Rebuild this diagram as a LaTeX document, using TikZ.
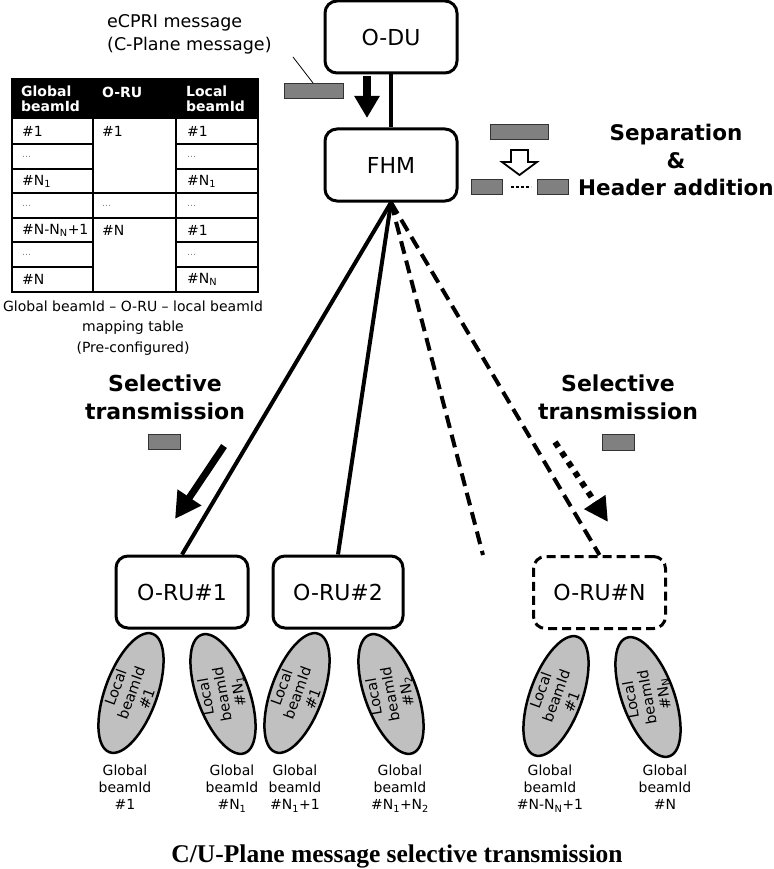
\documentclass[tikz,border=0pt]{standalone}
\usepackage{fontspec}
\setmainfont{DejaVu Sans}
\newfontfamily\titlefont{Liberation Serif}
\usetikzlibrary{arrows.meta,shapes.geometric}
\definecolor{msggray}{RGB}{128,128,128}
\definecolor{beamgray}{RGB}{192,192,192}
\tikzset{
 unitbox/.style={draw, line width=3pt, rounded corners=12pt, minimum width=132pt, minimum height=72pt, font=\fontsize{22}{26}\selectfont, inner sep=0pt},
 msg/.style={draw=black!80, fill=msggray, line width=1pt, inner sep=0pt, anchor=north west},
 link/.style={line width=4pt},
 dlink/.style={line width=4pt, dash pattern=on 13pt off 7pt},
 beam/.style={draw, line width=2.5pt, fill=beamgray, ellipse, minimum width=126pt, minimum height=52pt, inner sep=0pt},
 beamtxt/.style={font=\fontsize{14.5}{16.5}\selectfont, align=center, inner sep=0pt},
 glob/.style={font=\fontsize{14}{17}\selectfont, align=center, anchor=north, inner sep=0pt},
 boldlbl/.style={font=\bfseries\fontsize{21.5}{27.5}\selectfont, align=center, inner sep=0pt},
 cell/.style={font=\fontsize{14}{17}\selectfont, anchor=west, inner sep=0pt},
 hdr/.style={font=\bfseries\fontsize{14}{15}\selectfont, text=white, align=left, anchor=west, inner sep=0pt},
 celldots/.style={font=\fontsize{9}{10}\selectfont, text=black!50, anchor=west, inner sep=0pt},
 tabcaption/.style={font=\fontsize{14}{20.5}\selectfont, align=center, inner sep=0pt},
}
\begin{document}
\begin{tikzpicture}[x=1pt,y=-1pt]
\path[use as bounding box, fill=white] (0,0) rectangle (773,869);

% main units
\node[unitbox] (odu) at (391,37) {O-DU};
\node[unitbox] (fhm) at (391,165) {FHM};
\node[unitbox] (ru1) at (182,592) {O-RU\#1};
\node[unitbox, minimum width=130pt] (ru2) at (338,592) {O-RU\#2};
\node[unitbox, dash pattern=on 9pt off 5pt] (run) at (599.5,592.5) {O-RU\#N};

% links
\draw[link] (odu.south) -- (fhm.north);
\draw[link] (fhm.south) -- (ru1.north);
\draw[link] (fhm.south) -- (ru2.north);
\coordinate (dend) at (483,555);
\draw[dlink] (fhm.south) -- (dend);
\draw[dlink] (fhm.south) -- (run.north);

% eCPRI message
\node[font=\fontsize{17.5}{23}\selectfont, align=left, anchor=west, inner sep=0pt] (ecpri) at (107,34.5) {eCPRI message\\(C-Plane message)};
\node[msg, minimum width=59pt, minimum height=15pt] (m0) at (284,83) {};
\coordinate (lead) at (293,57);
\draw[line width=0.8pt] (lead) -- ([xshift=29pt]m0.north west);
\coordinate (a0s) at (367,76);
\coordinate (a0e) at (367,118);
\draw[line width=8pt, -{Triangle[length=22pt,width=24pt]}] (a0s) -- (a0e);

% separation & header addition
\node[msg, minimum width=58pt, minimum height=15pt] (m1) at (490,124) {};
\draw[line width=1.8pt, fill=white] (511,150) -- (528,150) -- (528,162) -- (537,162) -- (519.5,175) -- (502,162) -- (511,162) -- cycle;
\node[msg, minimum width=31pt, minimum height=15pt] (m2) at (471,179) {};
\node[msg, minimum width=31pt, minimum height=15pt] (m3) at (537,179) {};
\draw[line width=2.5pt, dash pattern=on 2.5pt off 2.5pt] ([xshift=8pt]m2.east) -- ([xshift=-6pt]m3.west);
\node[boldlbl] (sep) at (676,160) {Separation\\\&\\Header addition};

% selective transmission left
\node[boldlbl, font=\bfseries\fontsize{22}{28}\selectfont] (selL) at (165,397) {Selective\\transmission};
\node[msg, minimum width=32pt, minimum height=15pt] (mL) at (148,434) {};
\coordinate (aLs) at (224,446);
\coordinate (aLe) at (175,519);
\draw[line width=7pt, -{Triangle[length=26pt,width=27pt]}] (aLs) -- (aLe);

% selective transmission right
\node[boldlbl, font=\bfseries\fontsize{22}{28}\selectfont] (selR) at (618,397) {Selective\\transmission};
\node[msg, minimum width=32pt, minimum height=16pt] (mR) at (602,434) {};
\coordinate (aRs) at (555,442);
\coordinate (aRe) at (608,522);
\draw[line width=6pt, dash pattern=on 6pt off 6pt, -{Triangle[length=24pt,width=24pt]}] (aRs) -- (aRe);

% beams
\node[beam, rotate=70] (b1) at (131,693) {};
\node[beamtxt, rotate=70] at (b1.center) {Local\\beamId\\\#1};
\node[beam, rotate=110] (b2) at (223,694) {};
\node[beamtxt, rotate=100] at (b2.center) {Local\\beamId\\\#N\textsubscript{1}};
\node[beam, rotate=70] (b3) at (297,693) {};
\node[beamtxt, rotate=70] at (b3.center) {Local\\beamId\\\#1};
\node[beam, rotate=110] (b4) at (391,694) {};
\node[beamtxt, rotate=100] at (b4.center) {Local\\beamId\\\#N\textsubscript{2}};
\node[beam, rotate=70] (b5) at (556,696) {};
\node[beamtxt, rotate=70] at (b5.center) {Local\\beamId\\\#1};
\node[beam, rotate=110] (b6) at (648,697) {};
\node[beamtxt, rotate=100] at (b6.center) {Local\\beamId\\\#N\textsubscript{N}};

\node[glob] (g1) at (125,765) {Global\\beamId\\\#1};
\node[glob] (g2) at (232,765) {Global\\beamId\\\#N\textsubscript{1}};
\node[glob] (g3) at (295,765) {Global\\beamId\\\#N\textsubscript{1}+1};
\node[glob] (g4) at (400,765) {Global\\beamId\\\#N\textsubscript{1}+N\textsubscript{2}};
\node[glob] (g5) at (550,765) {Global\\beamId\\\#N-N\textsubscript{N}+1};
\node[glob] (g6) at (665,765) {Global\\beamId\\\#N};

% table
\fill (12,79) rectangle (258,119);
\draw[line width=1.5pt] (12,79) rectangle (258,292);
\draw[line width=1.5pt] (93,119) -- (93,292) (176,119) -- (176,292);
\foreach \yy in {144,169,193,218,242,267} {
  \draw[line width=1.5pt] (12,\yy) -- (93,\yy) (176,\yy) -- (258,\yy);
}
\draw[line width=1.5pt] (93,193) -- (176,193) (93,218) -- (176,218);
\node[hdr] (h1) at (21,99) {Global\\beamId};
\node[hdr] (h2) at (102,92) {O-RU};
\node[hdr] (h3) at (186,99) {Local\\beamId};
\node[cell] at (22,131.5) {\#1};
\node[celldots] at (22,156.5) {…};
\node[cell] at (22,181) {\#N\textsubscript{1}};
\node[celldots] at (22,205.5) {…};
\node[cell] at (22,230) {\#N-N\textsubscript{N}+1};
\node[celldots] at (22,254.5) {…};
\node[cell] at (22,279.5) {\#N};
\node[cell] at (102,131.5) {\#1};
\node[celldots] at (102,205.5) {…};
\node[cell] at (102,230) {\#N};
\node[cell] at (187,131.5) {\#1};
\node[celldots] at (187,156.5) {…};
\node[cell] at (187,181) {\#N\textsubscript{1}};
\node[celldots] at (187,205.5) {…};
\node[cell] at (187,230) {\#1};
\node[celldots] at (187,254.5) {…};
\node[cell] at (187,279.5) {\#N\textsubscript{N}};
\node[tabcaption] (tcap) at (133,328) {Global beamId – O-RU – local beamId\\mapping table\\(Pre-configured)};

% title
\node[font=\titlefont\bfseries\fontsize{25.5}{29}\selectfont, inner sep=0pt] (title) at (397,856) {C/U-Plane message selective transmission};
\end{tikzpicture}
\end{document}
